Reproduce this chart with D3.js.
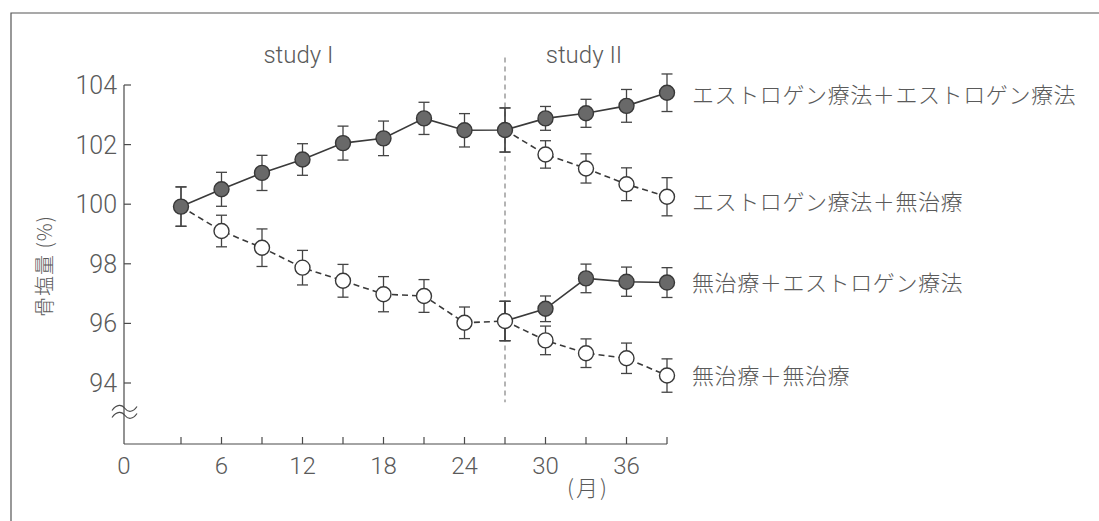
<!DOCTYPE html>
<html><head><meta charset="utf-8">
<script src="https://cdn.jsdelivr.net/npm/d3@7"></script>
<style>body{margin:0;background:#fff} svg{display:block}</style>
</head><body><svg id="c" width="1099" height="521"></svg>
<script>
// ---- data ----
const monthsAll = [3,6,9,12,15,18,21,24,27,30,33,36,39];
const monthsStudy1 = [3,6,9,12,15,18,21,24,27];
const monthsStudy2 = [27,30,33,36,39];
const xTickLabels = [0,6,12,18,24,30,36];
const yTickValues = [94,96,98,100,102,104];
const studyBoundary = 27;
const studyNames = ["study I", "study II"];

// estrogen -> estrogen (filled, whole period)
const estEstValues = [99.92,100.5,101.05,101.5,102.05,102.21,102.88,102.48,102.49,102.88,103.05,103.3,103.74];
const estEstErrors = [0.66,0.57,0.59,0.53,0.57,0.58,0.54,0.56,0.74,0.40,0.47,0.55,0.63];
// no treatment (study I, open)
const noneValues = [99.92,99.1,98.54,97.87,97.43,96.98,96.92,96.02,96.08];
const noneErrors = [0.66,0.53,0.63,0.58,0.55,0.59,0.55,0.53,0.66];
// estrogen -> no treatment (study II, open)
const estNoneValues = [102.49,101.67,101.2,100.67,100.25];
const estNoneErrors = [0.74,0.46,0.49,0.55,0.64];
// no treatment -> estrogen (study II, filled)
const noneEstValues = [96.08,96.49,97.51,97.4,97.37];
const noneEstErrors = [0.66,0.43,0.48,0.49,0.50];
// no treatment -> no treatment (study II, open)
const noneNoneValues = [96.08,95.43,95.0,94.83,94.25];
const noneNoneErrors = [0.66,0.48,0.48,0.51,0.56];

const seriesLabels = ["エストロゲン療法＋エストロゲン療法","エストロゲン療法＋無治療","無治療＋エストロゲン療法","無治療＋無治療"];
const yAxisTitle = "骨塩量 (%)";
const xAxisUnit = "(月)";

// ---- drawing ----
const svg = d3.select("#c");
const x = d3.scaleLinear().domain([0,3,39]).range([124,181,667]);
const y = d3.scaleLinear().domain([94,104]).range([383,85]);
const yBottom = 444, yTop = y(104);
const axisColor = "#4a4a4a", textColor = "#5a5a5a";
const numFont = "Roboto, 'Liberation Sans', sans-serif";
const cjkFont = "'Noto Sans CJK JP', 'Noto Sans', sans-serif";

// frame
svg.append("path").attr("d","M11,521 L11,13 L1099,13").attr("fill","none").attr("stroke","#555").attr("stroke-width",1.2);

// axes
const ax = svg.append("g").attr("stroke",axisColor).attr("stroke-width",1.2).attr("fill","none");
ax.append("line").attr("x1",x(0)).attr("x2",x(0)).attr("y1",yTop).attr("y2",yBottom);
ax.append("line").attr("x1",x(0)).attr("x2",x(39)).attr("y1",yBottom).attr("y2",yBottom);
yTickValues.forEach(v=>{
  ax.append("line").attr("x1",x(0)).attr("x2",x(0)+7).attr("y1",y(v)).attr("y2",y(v));
});
monthsAll.forEach(m=>{
  ax.append("line").attr("x1",x(m)).attr("x2",x(m)).attr("y1",yBottom).attr("y2",yBottom-7);
});
// break marks
[-3.5,3.5].forEach(o=>{
  const cy = 412 + o, x0 = x(0)-12;
  ax.append("path").attr("d",`M${x0},${cy+2} C${x0+5},${cy-5} ${x0+10},${cy-4} ${x0+13},${cy} S${x0+21},${cy+4} ${x0+25},${cy-2}`);
});

// tick labels
svg.append("g").selectAll("text").data(yTickValues).join("text")
  .attr("x",x(0)-7).attr("y",d=>y(d)).attr("dy","0.36em").attr("text-anchor","end")
  .attr("font-family",numFont).attr("font-weight",300).attr("font-size",25).attr("fill",textColor)
  .text(d=>d);
svg.append("g").selectAll("text").data(xTickLabels).join("text")
  .attr("x",d=>x(d)).attr("y",yBottom+21).attr("dy","0.36em").attr("text-anchor","middle")
  .attr("font-family",numFont).attr("font-weight",300).attr("font-size",24).attr("fill",textColor)
  .text(d=>d);
svg.append("text").attr("x",x(33)+2).attr("y",488).attr("dy","0.36em").attr("text-anchor","middle")
  .attr("font-family",cjkFont).attr("font-weight",300).attr("font-size",22).attr("letter-spacing",2).attr("fill",textColor).text(xAxisUnit);
svg.append("text").attr("transform","translate(52,266) rotate(-90)").attr("text-anchor","middle")
  .attr("font-family",cjkFont).attr("font-weight",300).attr("font-size",20).attr("letter-spacing",1).attr("fill",textColor).text(yAxisTitle);

// study labels
svg.append("text").attr("x",x(11.7)).attr("y",63).attr("text-anchor","middle")
  .attr("font-family",numFont).attr("font-weight",300).attr("font-size",24).attr("fill",textColor).text(studyNames[0]);
svg.append("text").attr("x",x(32.85)).attr("y",63).attr("text-anchor","middle")
  .attr("font-family",numFont).attr("font-weight",300).attr("font-size",24).attr("fill",textColor).text(studyNames[1]);

// boundary
svg.append("line").attr("x1",x(studyBoundary)).attr("x2",x(studyBoundary)).attr("y1",y(104.92)).attr("y2",y(93.35))
  .attr("stroke","#777").attr("stroke-width",1.1).attr("stroke-dasharray","5,4");

function pts(ms, vs, es){ return ms.map((m,i)=>({m, v:vs[i], e:es[i]})); }
const sEE = pts(monthsAll, estEstValues, estEstErrors);
const sN  = pts(monthsStudy1, noneValues, noneErrors);
const sEN = pts(monthsStudy2, estNoneValues, estNoneErrors);
const sNE = pts(monthsStudy2, noneEstValues, noneEstErrors);
const sNN = pts(monthsStudy2, noneNoneValues, noneNoneErrors);

const line = d3.line().x(d=>x(d.m)).y(d=>y(d.v));
function drawLine(s, dashed){
  svg.append("path").attr("d",line(s)).attr("fill","none").attr("stroke","#3a3a3a")
    .attr("stroke-width",1.6).attr("stroke-dasharray",dashed?"6,4":null);
}
drawLine(sN,true); drawLine(sEN,true); drawLine(sNN,true);
drawLine(sEE,false); drawLine(sNE,false);

function drawErr(s){
  const g = svg.append("g").attr("stroke","#444").attr("stroke-width",1.3);
  s.forEach(d=>{
    g.append("line").attr("x1",x(d.m)).attr("x2",x(d.m)).attr("y1",y(d.v+d.e)).attr("y2",y(d.v-d.e));
    [d.v+d.e,d.v-d.e].forEach(t=>g.append("line").attr("x1",x(d.m)-5.5).attr("x2",x(d.m)+5.5).attr("y1",y(t)).attr("y2",y(t)));
  });
}
[sEE,sN,sEN,sNE,sNN].forEach(drawErr);

function drawPts(s, filled){
  svg.append("g").selectAll("circle").data(s).join("circle")
    .attr("cx",d=>x(d.m)).attr("cy",d=>y(d.v)).attr("r",7.5)
    .attr("fill",filled?"#696969":"#fff").attr("stroke","#383838").attr("stroke-width",1.4);
}
drawPts(sN.slice(1),false);
drawPts(sEN.slice(1),false);
drawPts(sNN.slice(1),false);
drawPts(sNE.slice(1),true);
drawPts(sEE,true);

// end labels
const ends = [sEE, sEN, sNE, sNN];
const offs = [2.5,5,1,1];
svg.append("g").selectAll("text").data(ends).join("text")
  .attr("x",x(39)+25).attr("y",(s,i)=>y(s[s.length-1].v)+offs[i]).attr("dy","0.36em")
  .attr("font-family",cjkFont).attr("font-weight",300).attr("font-size",22).attr("letter-spacing",0.6)
  .attr("fill",textColor).text((s,i)=>seriesLabels[i]);
</script></body></html>
